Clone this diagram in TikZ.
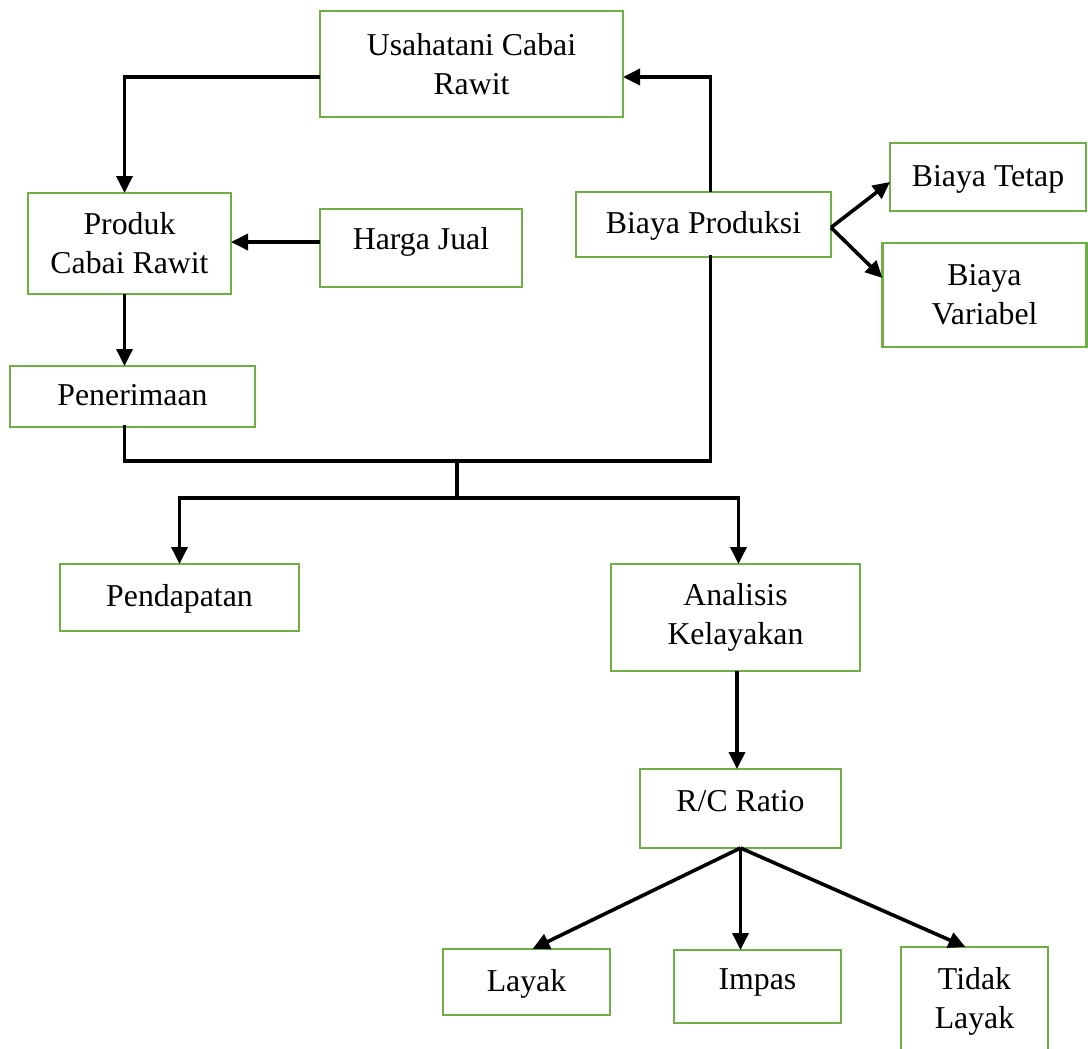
\documentclass[tikz,border=0pt]{standalone}
\usepackage{fontspec}
\setmainfont{Liberation Serif}
\usetikzlibrary{arrows.meta}
\definecolor{boxgreen}{HTML}{70AD47}
\begin{document}
\begin{tikzpicture}[x=1pt,y=-1pt,
  box/.style={draw=boxgreen,line width=2.6pt,inner sep=0pt,outer sep=0pt,
    font=\fontsize{31.8}{39}\selectfont,align=center},
  one/.style={text height=24.6pt,text depth=6.6pt},
  lift/.style={text height=24.6pt,text depth=#1},
  ln/.style={line width=3.6pt,line cap=rect},
  arr/.style={line width=3.6pt,-{Triangle[length=17pt,width=16pt]}}]
\useasboundingbox (0,0) rectangle (1088,1049);
\clip (0,0) rectangle (1088,1049);
\node[box,minimum width=303,minimum height=106] (U) at (471.5,64) {Usahatani Cabai\\Rawit};
\node[box,minimum width=203,minimum height=101] (P) at (129.5,243.5) {Produk\\Cabai Rawit};
\node[box,lift=21pt,minimum width=202,minimum height=78] (H) at (421,248) {Harga Jual};
\node[box,one,minimum width=245,minimum height=61] (Pn) at (132.5,396.5) {Penerimaan};
\node[box,one,minimum width=255,minimum height=65] (BP) at (703.5,224.5) {Biaya Produksi};
\node[box,one,minimum width=196,minimum height=68] (BT) at (988,177) {Biaya Tetap};
\node[box,minimum width=204,minimum height=104] (BV) at (984.5,295) {Biaya\\Variabel};
\node[box,one,minimum width=239,minimum height=67] (Pd) at (179.5,597.5) {Pendapatan};
\node[box,minimum width=249,minimum height=107] (A) at (735.5,617.5) {Analisis\\Kelayakan};
\node[box,lift=18pt,minimum width=201,minimum height=79] (R) at (740.5,808.5) {R/C Ratio};
\node[box,one,minimum width=167,minimum height=66] (L) at (526.5,982) {Layak};
\node[box,lift=18pt,minimum width=167,minimum height=73] (I) at (757.5,986.5) {Impas};
\node[box,minimum width=147,minimum height=140] (T) at (974.5,1017) {Tidak\\Layak\\\mbox{}};
\coordinate (J) at (457,461);
\coordinate (S) at (457,498);
\draw[arr] ([yshift=-13pt]U.west) -| ([xshift=-5pt]P.north);
\draw[arr] ([yshift=6pt]H.west) -- ([yshift=6pt]H.west -| P.east);
\draw[arr] ([xshift=-5pt]P.south) -- ([xshift=-5pt]P.south |- Pn.north);
\draw[ln] ([xshift=-8pt]Pn.south) |- (J) -| ([xshift=7pt]BP.south);
\draw[arr] ([xshift=7pt]BP.north) |- ([yshift=-13pt]U.east);
\draw[arr] ([yshift=-3pt]BP.east) -- ([yshift=-5pt]BT.west);
\draw[arr] ([yshift=-3pt]BP.east) -- ([yshift=17pt]BV.west);
\draw[ln] (J) -- (S);
\draw[arr] (S) -| (Pd.north);
\draw[arr] (S) -| ([xshift=3pt]A.north);
\draw[arr] ([xshift=1.5pt]A.south) -- ([xshift=1.5pt]A.south |- R.north);
\draw[arr] (R.south) -- ([xshift=6pt]L.north);
\draw[arr] (R.south) -- (R.south |- I.north);
\draw[arr] (R.south) -- ([xshift=-9pt]T.north);
\end{tikzpicture}
\end{document}
